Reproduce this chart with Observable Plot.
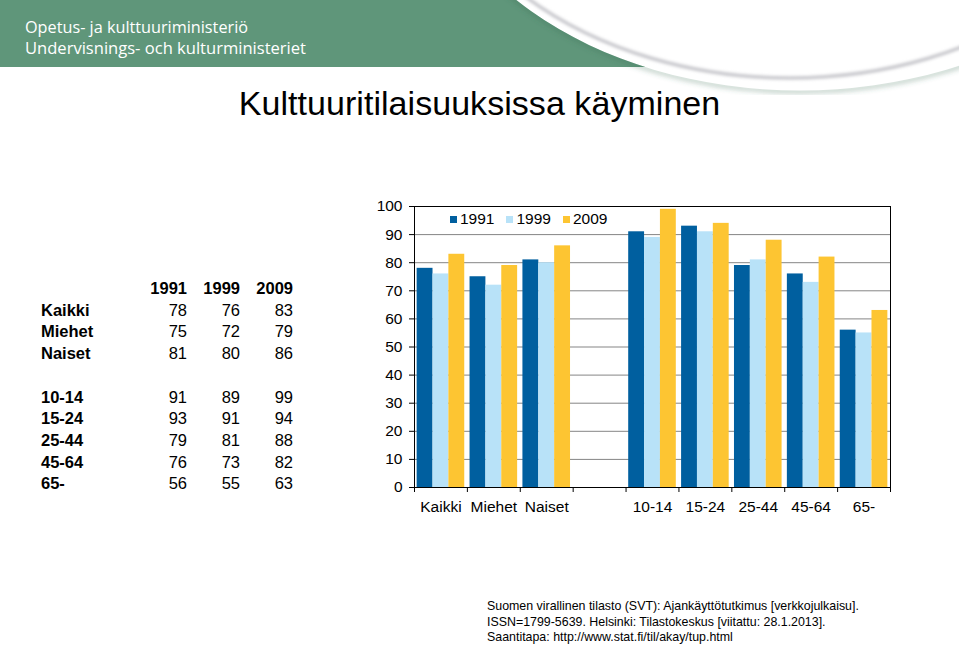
<!DOCTYPE html>
<html>
<head>
<meta charset="utf-8">
<script src="https://cdn.jsdelivr.net/npm/d3@7"></script>
<script src="https://cdn.jsdelivr.net/npm/@observablehq/plot@0.6"></script>
<style>
  html, body { margin: 0; padding: 0; background: #fff; }
  #page { position: relative; width: 959px; height: 647px; overflow: hidden; font-family: "Liberation Sans", Arial, sans-serif; color: #000; }
  #banner { position: absolute; left: 0; top: 0; }
  #title { position: absolute; left: 0; width: 959px; top: 84px; text-align: center; font-size: 34px; letter-spacing: 0.05px; }
  #table { position: absolute; left: 41px; top: 278px; border-collapse: collapse; font-size: 16.5px; }
  #table td { padding: 0; height: 21.7px; line-height: 21.7px; text-align: right; width: 53px; }
  #table td.lab { text-align: left; font-weight: bold; width: 93px; }
  #table tr.head td { font-weight: bold; }
  #chart { position: absolute; left: 360px; top: 195px; }
  #legend { position: absolute; left: 450px; top: 209px; font-size: 15.5px; display: flex; align-items: center; height: 20px; }
  #legend .sw { display: inline-block; width: 7px; height: 7px; margin-right: 3px; }
  #legend .it { display: inline-flex; align-items: center; margin-right: 12px; }
  #source { position: absolute; left: 487px; top: 599px; font-size: 12.4px; line-height: 15.5px; }
</style>
</head>
<body>
<div id="page">
  <svg id="banner" width="959" height="95" viewBox="0 0 959 95">
    <defs>
      <clipPath id="cutE">
        <path d="M0,0 H959 V95 H0 Z M420,-180 a380,270.5 0 1,0 760,0 a380,270.5 0 1,0 -760,0 Z" clip-rule="evenodd"/>
      </clipPath>
      <filter id="blur1" x="-10%" y="-10%" width="120%" height="140%"><feGaussianBlur stdDeviation="1.6"/></filter>
      <filter id="blur2" x="-10%" y="-10%" width="120%" height="140%"><feGaussianBlur stdDeviation="2.5"/></filter>
    </defs>
    <rect x="0" y="0" width="700" height="67" fill="#5f967a" clip-path="url(#cutE)"/>
    <ellipse cx="800" cy="-180" rx="381" ry="271.5" fill="none" stroke="#3f6e56" stroke-opacity="0.35" stroke-width="4" filter="url(#blur2)" clip-path="url(#cutE)"/>
    <ellipse cx="790" cy="-200" rx="374" ry="278" fill="none" stroke="#c9c9ce" stroke-width="3.5" filter="url(#blur1)"/>
    <text x="25" y="32.5" fill="#fff" font-family="Open Sans, Lato, sans-serif" font-size="17" textLength="223" lengthAdjust="spacingAndGlyphs">Opetus- ja kulttuuriministeriö</text>
    <text x="25" y="54" fill="#fff" font-family="Open Sans, Lato, sans-serif" font-size="17" textLength="281" lengthAdjust="spacingAndGlyphs">Undervisnings- och kulturministeriet</text>
  </svg>
  <div id="title">Kulttuuritilaisuuksissa käyminen</div>
  <table id="table"></table>
  <div id="chart"></div>
  <div id="legend"></div>
  <div id="source">Suomen virallinen tilasto (SVT): Ajankäyttötutkimus [verkkojulkaisu].<br>ISSN=1799-5639. Helsinki: Tilastokeskus [viitattu: 28.1.2013].<br>Saantitapa: http://www.stat.fi/til/akay/tup.html</div>
</div>
<script>
// ---- data ----
const groups = ["Kaikki", "Miehet", "Naiset", "10-14", "15-24", "25-44", "45-64", "65-"];
const years = ["1991", "1999", "2009"];
const v1991 = [78, 75, 81, 91, 93, 79, 76, 56];
const v1999 = [76, 72, 80, 89, 91, 81, 73, 55];
const v2009 = [83, 79, 86, 99, 94, 88, 82, 63];
const slots = ["Kaikki", "Miehet", "Naiset", "", "10-14", "15-24", "25-44", "45-64", "65-"];
const yTicks = [0, 10, 20, 30, 40, 50, 60, 70, 80, 90, 100];
const colors = ["#005f9f", "#b8e2f8", "#fdc532"];

const series = [v1991, v1999, v2009];
const rows = groups.flatMap((g, i) => years.map((y, k) => ({ group: g, year: y, k, value: series[k][i] })));

// ---- table ----
const table = document.getElementById("table");
let html = '<tr class="head"><td class="lab"></td>' + years.map(y => `<td>${y}</td>`).join("") + "</tr>";
groups.forEach((g, i) => {
  if (g === "10-14") html += '<tr><td class="lab">&nbsp;</td><td></td><td></td><td></td></tr>';
  html += `<tr><td class="lab">${g}</td>` + series.map(s => `<td>${s[i]}</td>`).join("") + "</tr>";
});
table.innerHTML = html;

// ---- legend ----
document.getElementById("legend").innerHTML = years.map((y, k) =>
  `<span class="it"><span class="sw" style="background:${colors[k]}"></span>${y}</span>`).join("");

// ---- chart ----
const barPad = 0.05, barW = 0.3;
const chart = Plot.plot({
  width: 540,
  height: 330,
  marginLeft: 54,
  marginRight: 10,
  marginTop: 11,
  marginBottom: 38,
  style: { fontFamily: "Liberation Sans, Arial, sans-serif", fontSize: "15.5px", color: "#000", background: "transparent" },
  x: { type: "linear", domain: [0, slots.length], axis: null },
  y: { domain: [0, 100], axis: null },
  color: { domain: years, range: colors },
  marks: [
    Plot.ruleY(yTicks.filter(t => t > 0 && t < 100), { stroke: "#858585", strokeWidth: 1 }),
    Plot.rectY(rows, {
      x1: d => slots.indexOf(d.group) + barPad + d.k * barW,
      x2: d => slots.indexOf(d.group) + barPad + (d.k + 1) * barW,
      y: "value",
      fill: "year"
    }),
    Plot.frame({ stroke: "#000", strokeWidth: 1 }),
    Plot.axisY({ ticks: yTicks, tickSize: 5, tickPadding: 7, stroke: "#000", fontSize: 15.5, label: null }),
    Plot.axisX({ ticks: d3.range(0, slots.length + 1), tickSize: 5, tickFormat: () => "", stroke: "#000", label: null }),
    Plot.axisX({
      ticks: slots.map((s, i) => i + 0.5).filter((v, i) => slots[i] !== ""),
      tickSize: 0, tickPadding: 13, fontSize: 15.5, label: null,
      tickFormat: v => slots[Math.floor(v)]
    })
  ]
});
document.getElementById("chart").appendChild(chart);
</script>
</body>
</html>
